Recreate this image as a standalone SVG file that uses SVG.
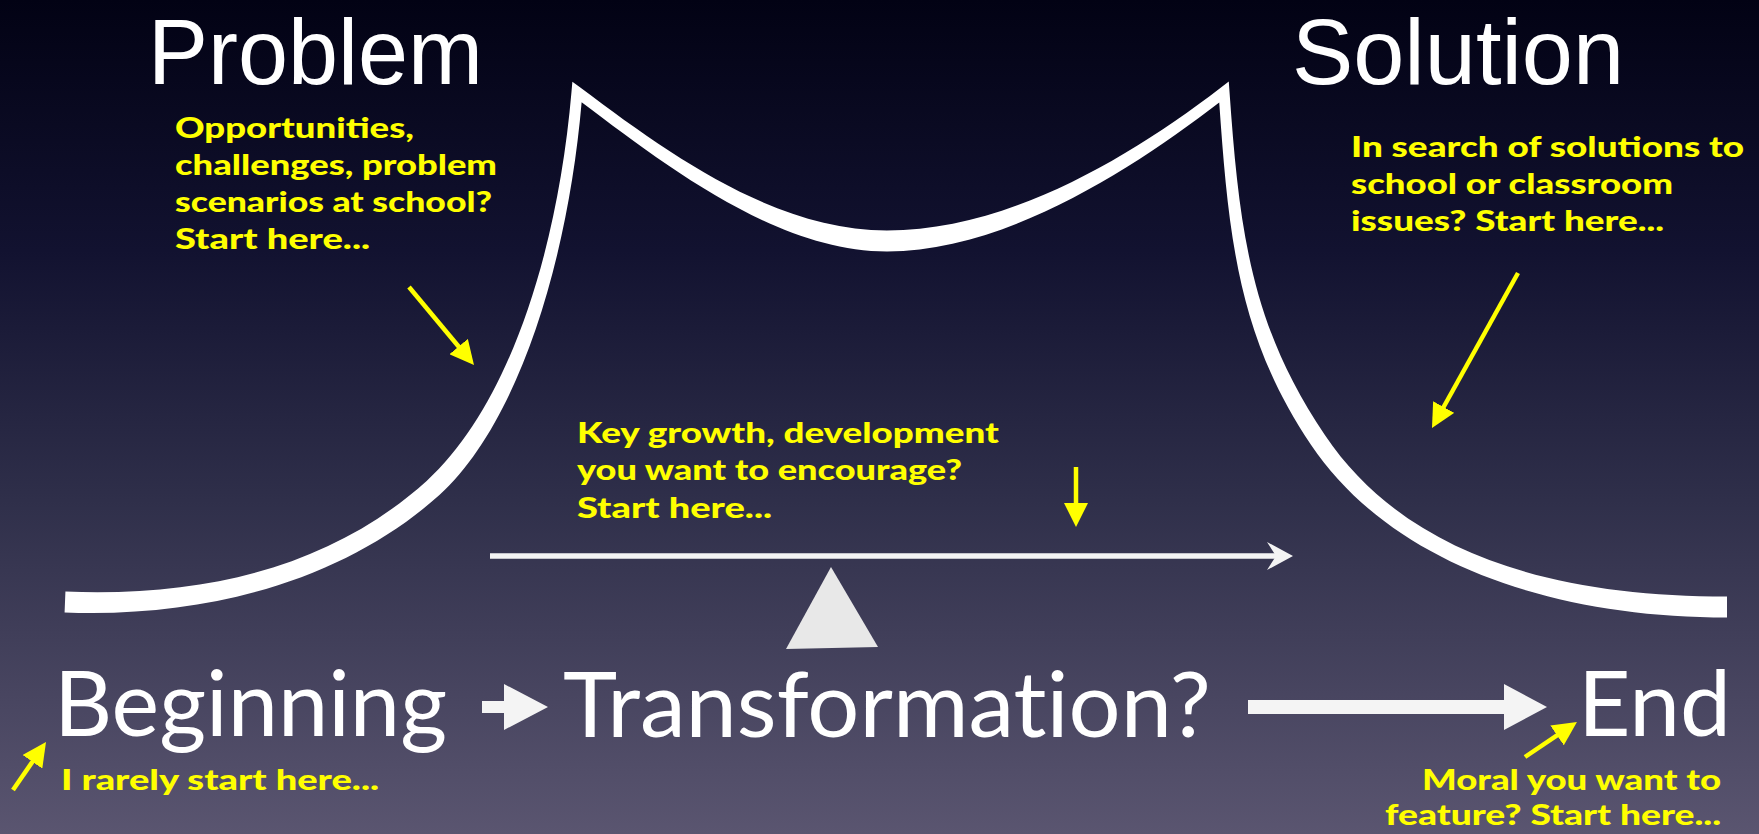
<svg xmlns="http://www.w3.org/2000/svg" width="1759" height="834" viewBox="0 0 1759 834">
<defs>
<linearGradient id="bg" x1="0" y1="0" x2="0" y2="1">
<stop offset="0" stop-color="#020214"/>
<stop offset="0.3" stop-color="#121230"/>
<stop offset="0.6" stop-color="#2f2f4a"/>
<stop offset="1" stop-color="#5a5570"/>
</linearGradient>
<marker id="yh" viewBox="0 0 24 24" refX="12" refY="12" markerWidth="24" markerHeight="24" markerUnits="userSpaceOnUse" orient="auto">
<path d="M0,0 L24,12 L0,24 Z" fill="#ffff00"/>
</marker>
</defs>
<style>
.big{font-family:Lato,"Open Sans","Liberation Sans",sans-serif;font-size:92px;fill:#ffffff;font-variant-ligatures:none;}
.top{font-family:"Liberation Sans",Arial,sans-serif;font-size:92px;fill:#ffffff;}
.note{font-family:Lato,"Open Sans","Liberation Sans",sans-serif;font-size:28px;font-weight:900;fill:#ffff00;}
.ya{fill:none;stroke:#ffff00;stroke-width:4.5;marker-end:url(#yh);}
.wa{fill:#f4f4f4;}
</style>
<rect x="0" y="0" width="1759" height="834" fill="url(#bg)"/>

<g id="curve">
<path fill="#ffffff" d="M65.42,591.51 C215.42,597.51 336.64,561.94 426.64,480.94 C507.59,406.99 557.52,254.53 571.52,91.53 L572.37,81.63 L580.31,87.61 C673.31,157.61 777,230.5 887,230.5 C1007,230.5 1129.65,157.64 1220.65,87.64 L1228.77,81.39 L1229.49,91.62 C1239.49,234.62 1252.04,327.24 1325.04,435.24 C1403.05,551.26 1547,596.5 1727,596.5 L1727,617.5 C1547,617.5 1388.95,560.74 1310.95,444.74 C1237.96,336.76 1228.51,235.38 1219.23,102.61 C1136.35,166.36 1007,251.5 887,251.5 C777,251.5 666.69,166.39 581.63,102.37 C568.48,255.47 520.41,421.01 439.41,494.99 C349.36,576.06 214.58,618.49 64.58,612.49 Z"/>
</g>

<g id="problem"><text class="top" x="148" y="84" textLength="335" lengthAdjust="spacingAndGlyphs">Problem</text></g>
<g id="solution"><text class="top" x="1292" y="84" textLength="332" lengthAdjust="spacingAndGlyphs">Solution</text></g>
<g id="beginning"><text class="big" x="54" y="736" textLength="393" lengthAdjust="spacingAndGlyphs">Beginning</text></g>
<g id="transformation"><text class="big" x="563" y="737" textLength="648" lengthAdjust="spacingAndGlyphs">Transformation?</text></g>
<g id="end"><text class="big" x="1578" y="736" textLength="153" lengthAdjust="spacingAndGlyphs">End</text></g>

<g id="note-problem">
<text class="note" x="175" y="138" textLength="239" lengthAdjust="spacingAndGlyphs">Opportunities,</text>
<text class="note" x="175" y="175" textLength="322" lengthAdjust="spacingAndGlyphs">challenges, problem</text>
<text class="note" x="175" y="212" textLength="317" lengthAdjust="spacingAndGlyphs">scenarios at school?</text>
<text class="note" x="175" y="249" textLength="195" lengthAdjust="spacingAndGlyphs">Start here...</text>
</g>
<g id="note-solution">
<text class="note" x="1351" y="157" textLength="393" lengthAdjust="spacingAndGlyphs">In search of solutions to</text>
<text class="note" x="1351" y="194" textLength="322" lengthAdjust="spacingAndGlyphs">school or classroom</text>
<text class="note" x="1351" y="231" textLength="313" lengthAdjust="spacingAndGlyphs">issues? Start here...</text>
</g>
<g id="note-growth">
<text class="note" x="577" y="443" textLength="422" lengthAdjust="spacingAndGlyphs">Key growth, development</text>
<text class="note" x="577" y="480" textLength="385" lengthAdjust="spacingAndGlyphs">you want to encourage?</text>
<text class="note" x="577" y="518" textLength="195" lengthAdjust="spacingAndGlyphs">Start here...</text>
</g>
<g id="note-beginning">
<text class="note" x="61" y="790" textLength="318" lengthAdjust="spacingAndGlyphs">I rarely start here...</text>
</g>
<g id="note-end">
<text class="note" x="1422" y="790" textLength="299" lengthAdjust="spacingAndGlyphs">Moral you want to</text>
<text class="note" x="1385" y="825" textLength="336" lengthAdjust="spacingAndGlyphs">feature? Start here...</text>
</g>

<g id="seesaw">
<polygon points="786,649 878,647 831,567" fill="#e8e8e8"/>
</g>

<g id="connectors">
<line x1="490" y1="556" x2="1279" y2="556" stroke="#f4f4f4" stroke-width="5.5"/>
<path d="M1293,556 L1267,542 L1276,556 L1267,570 Z" fill="#f4f4f4"/>
<path class="wa" d="M482,701 L504,701 L504,684 L548,707 L504,730 L504,713 L482,713 Z"/>
<path class="wa" d="M1248,700 L1504,700 L1504,684 L1547,707 L1504,730 L1504,714 L1248,714 Z"/>
<path class="ya" d="M409,287 L466.3,355.8"/>
<path class="ya" d="M1518,273 L1437.8,417.5"/>
<path class="ya" d="M1076,467 L1076,515"/>
<path class="ya" d="M13,790 L39.2,751.9"/>
<path class="ya" d="M1525,757 L1567,728.7"/>
</g>
</svg>
